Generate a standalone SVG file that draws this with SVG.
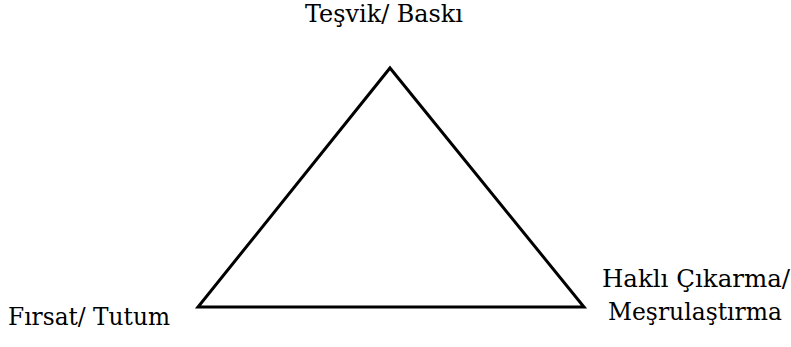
<svg xmlns="http://www.w3.org/2000/svg" width="791" height="347" viewBox="0 0 791 347">
<style>
.tri{fill:none;stroke:#000;stroke-width:3;stroke-linejoin:miter}
</style>
<rect width="791" height="347" fill="#fff"/>
<g id="triangle"><polygon class="tri" points="390,68 584,307 198,307"/></g>
<g id="connectors"/>
<g font-family="DejaVu Serif, Liberation Serif, serif" font-size="24" fill="#000">
<g id="node-top"><text x="305" y="22" textLength="158" lengthAdjust="spacingAndGlyphs">Teşvik/ Baskı</text></g>
<g id="node-left"><text x="8" y="325" textLength="162" lengthAdjust="spacingAndGlyphs">Fırsat/ Tutum</text></g>
<g id="node-right"><text x="602" y="287" textLength="188" lengthAdjust="spacingAndGlyphs">Haklı Çıkarma/</text><text x="608" y="320" textLength="174" lengthAdjust="spacingAndGlyphs">Meşrulaştırma</text></g>
</g>
</svg>
